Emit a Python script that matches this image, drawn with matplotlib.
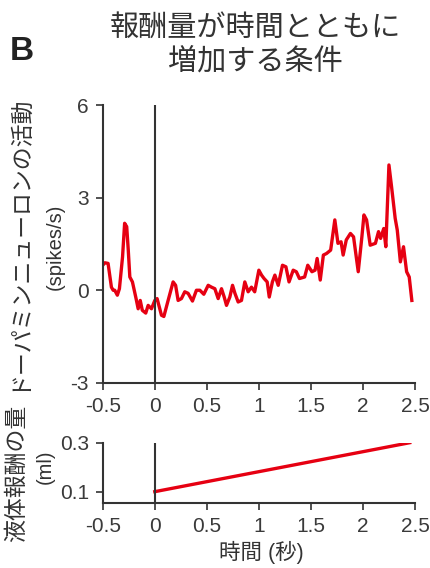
import matplotlib
matplotlib.use("Agg")
import matplotlib.pyplot as plt

plt.rcParams['font.family'] = ['Liberation Sans', 'Noto Sans CJK JP', 'DejaVu Sans']
plt.rcParams['axes.unicode_minus'] = False

# ---- data ----
time_s = [-0.513, -0.48, -0.449, -0.417, -0.40, -0.385, -0.36, -0.34, -0.31, -0.29, -0.27,
          -0.255, -0.24, -0.215, -0.18, -0.16, -0.14, -0.12, -0.087, -0.064, -0.032, 0.0,
          0.022, 0.064, 0.087, 0.128, 0.176, 0.20, 0.224, 0.256, 0.288, 0.32, 0.362, 0.40,
          0.433, 0.471, 0.513, 0.545, 0.577, 0.609, 0.641, 0.667, 0.689, 0.721, 0.747,
          0.77, 0.801, 0.833, 0.865, 0.897, 0.929, 0.96, 1.0, 1.026, 1.05, 1.08, 1.10,
          1.13, 1.154, 1.186, 1.227, 1.26, 1.29, 1.33, 1.36, 1.39, 1.44, 1.47, 1.51, 1.54,
          1.56, 1.59, 1.62, 1.65, 1.69, 1.73, 1.76, 1.79, 1.81, 1.84, 1.88, 1.91, 1.955,
          1.99, 2.01, 2.035, 2.07, 2.12, 2.15, 2.17, 2.2, 2.22, 2.25, 2.275, 2.31, 2.33,
          2.36, 2.39, 2.42, 2.445, 2.47]
rate = [0.76, 0.89, 0.87, 0.10, 0.0, 0.0, -0.16, 0.05, 1.08, 2.17, 2.06,
        1.30, 0.43, 0.27, -0.27, -0.60, -0.33, -0.65, -0.74, -0.49, -0.60, -0.33,
        -0.27, -0.81, -0.85, -0.33, 0.27, 0.16, -0.33, -0.27, -0.05, -0.10, -0.35, 0.0,
        0.0, -0.13, 0.16, 0.10, 0.05, -0.27, 0.05, -0.22, -0.49, -0.22, 0.16,
        -0.10, -0.38, -0.33, 0.27, -0.05, 0.10, -0.05, 0.65, 0.49, 0.38, 0.27, -0.22,
        0.27, 0.49, 0.16, 0.81, 0.76, 0.27, 0.65, 0.60, 0.38, 0.43, 0.81, 0.60, 0.65,
        1.03, 0.33, 1.14, 1.19, 1.30, 2.28, 1.52, 1.57, 1.14, 1.63, 1.84, 1.73, 0.60,
        1.73, 2.44, 2.28, 1.46, 1.52, 1.90, 1.68, 2.00, 1.41, 4.06, 3.36, 2.33, 1.95,
        0.92, 1.41, 0.60, 0.43, -0.33]

reward_t = [0.0, 2.45]
reward_ml = [0.1, 0.3]

xticks = [-0.5, 0, 0.5, 1, 1.5, 2, 2.5]
xticklabels = ['-0.5', '0', '0.5', '1', '1.5', '2', '2.5']
yticks_top = [-3, 0, 3, 6]
yticklabels_top = ['-3', '0', '3', '6']
yticks_bot = [0.1, 0.3]

red = '#e60012'
dark = '#333333'

fig = plt.figure(figsize=(4.3, 5.68), dpi=100)

def style(ax):
    for s in ['top', 'right']:
        ax.spines[s].set_visible(False)
    for s in ['left', 'bottom']:
        ax.spines[s].set_color(dark)
        ax.spines[s].set_linewidth(1.5)
    ax.tick_params(direction='out', length=5, width=1.2, color=dark,
                   labelsize=15, labelcolor='#3a3a3a', pad=5)

ax1 = fig.add_axes([0.239, 0.326, 0.726, 0.489])
ax1.plot(time_s, rate, color=red, lw=2.4, solid_joinstyle='round')
ax1.axvline(0, color=dark, lw=1.5)
ax1.set_xlim(-0.5, 2.5)
ax1.set_ylim(-3, 6)
ax1.set_xticks(xticks)
ax1.set_xticklabels(xticklabels)
ax1.set_yticks(yticks_top)
ax1.set_yticklabels(yticklabels_top)
style(ax1)

ax2 = fig.add_axes([0.239, 0.115, 0.726, 0.1056])
ax2.plot(reward_t, reward_ml, color=red, lw=2.4)
ax2.plot([0, 0], [0.055, 0.3], color=dark, lw=1.5)
ax2.set_xlim(-0.5, 2.5)
ax2.set_ylim(0.055, 0.3)
ax2.set_xticks(xticks)
ax2.set_xticklabels(xticklabels)
ax2.set_yticks(yticks_bot)
ax2.set_yticklabels(['0.1', '0.3'])
style(ax2)
ax2.spines['left'].set_bounds(0.055, 0.3)

# texts
fig.text(22 / 430, 1 - 52 / 568, 'B', fontsize=24, fontweight='bold', color='#222222',
         ha='center', va='center')
fig.text(255 / 430, 1 - 45 / 568, '報酬量が時間とともに\n増加する条件', fontsize=21,
         color=dark, ha='center', va='center', linespacing=1.15,
         family=['Noto Sans CJK JP'])
fig.text(17 / 430, 1 - 242 / 568, 'ドーパミンニューロンの活動', rotation=90, fontsize=16.5,
         color=dark, ha='center', va='center', family=['Noto Sans CJK JP'])
fig.text(55 / 430, 1 - 247 / 568, '(spikes/s)', rotation=90, fontsize=14.5,
         color=dark, ha='center', va='center')
fig.text(17 / 430, 1 - 473 / 568, '液体報酬の量', rotation=90, fontsize=16.5,
         color=dark, ha='center', va='center', family=['Noto Sans CJK JP'])
fig.text(45 / 430, 1 - 467 / 568, '(ml)', rotation=90, fontsize=14.5,
         color=dark, ha='center', va='center')
fig.text(261 / 430, 1 - 552 / 568, '時間 (秒)', fontsize=15.5, color=dark,
         ha='center', va='center')

fig.savefig('out.png', dpi=100)
